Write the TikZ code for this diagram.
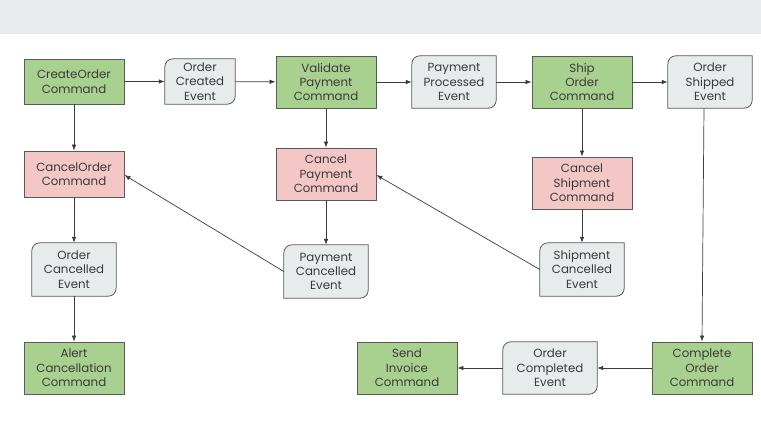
\documentclass[tikz,border=0pt]{standalone}
\usepackage{fontspec}
\setmainfont{Poppins}
\usetikzlibrary{arrows.meta,backgrounds,calc}
\definecolor{cmdgreen}{HTML}{A8D18F}
\definecolor{cmdred}{HTML}{F3C7C6}
\definecolor{evgray}{HTML}{E7EBEC}
\definecolor{bandgray}{HTML}{E9ECEC}
\definecolor{edgegray}{HTML}{5A5A5A}
\definecolor{txtgray}{HTML}{3A3A3A}
\definecolor{linegray}{HTML}{3C3C3C}
\tikzset{
  boxtext/.style={align=center, text=txtgray, inner sep=0pt,
    font=\fontsize{11.8pt}{14.4pt}\selectfont},
  cmd/.style={boxtext, draw=edgegray, line width=0.8pt, fill=cmdgreen,
    minimum width=100pt},
  cancel/.style={boxtext, draw=edgegray, line width=0.8pt, fill=cmdred,
    minimum width=100pt},
  evt/.style={boxtext},
  evtshape/.style={draw=edgegray, line width=0.8pt, fill=evgray},
  conn/.style={draw=linegray, line width=0.7pt,
    -{Latex[length=6pt,width=4.5pt]}},
}
\newcommand\evnode[6]{%
  \node[evt, minimum width=#4, minimum height=#5] (#1) at (#2,#3) {#6};
  \begin{pgfonlayer}{background}
    \path[evtshape] ([yshift=-8pt]#1.north west)
      arc[start angle=180, end angle=90, radius=8pt] -- (#1.north east)
      -- ([yshift=8pt]#1.south east)
      arc[start angle=0, end angle=-90, radius=8pt] -- (#1.south west) -- cycle;
  \end{pgfonlayer}}
\begin{document}
\begin{tikzpicture}[x=1pt,y=-1pt]
\useasboundingbox (0,0) rectangle (761,426);
\begin{pgfonlayer}{background}
  \fill[white] (0,0) rectangle (761,426);
  \fill[bandgray] (0,0) rectangle (761,34);
\end{pgfonlayer}

% top row
\node[cmd, minimum height=45pt] (create) at (74,81.5) {CreateOrder\\Command};
\evnode{ocreated}{200}{81.5}{70pt}{45pt}{Order\\Created\\Event}
\node[cmd, minimum height=52pt] (validate) at (326,82) {Validate\\Payment\\Command};
\evnode{pprocessed}{454}{82}{84pt}{52pt}{Payment\\Processed\\Event}
\node[cmd, minimum height=52pt] (ship) at (582,82) {Ship\\Order\\Command};
\evnode{oshipped}{710}{82}{84pt}{52pt}{Order\\Shipped\\Event}

% cancel commands
\node[cancel, minimum height=46pt] (cancelorder) at (74,174) {CancelOrder\\Command};
\node[cancel, minimum height=52pt] (cancelpay) at (326,174) {Cancel\\Payment\\Command};
\node[cancel, minimum height=52pt] (cancelship) at (582,183) {Cancel\\Shipment\\Command};

% cancelled events
\evnode{ocancelled}{74}{269.5}{84pt}{53pt}{Order\\Cancelled\\Event}
\evnode{pcancelled}{326}{271.5}{84pt}{53pt}{Payment\\Cancelled\\Event}
\evnode{scancelled}{582}{269.5}{84pt}{53pt}{Shipment\\Cancelled\\Event}

% bottom row
\node[cmd, minimum height=52pt] (alert) at (74,368) {Alert\\Cancellation\\Command};
\node[cmd, minimum height=52pt] (invoice) at (407,368) {Send\\Invoice\\Command};
\evnode{ocompleted}{550}{368}{94pt}{52pt}{Order\\Completed\\Event}
\node[cmd, minimum height=52pt] (complete) at (702,368) {Complete\\Order\\Command};

% connectors
\draw[conn] (create) -- (ocreated);
\draw[conn] (ocreated) -- (validate);
\draw[conn] (validate) -- (pprocessed);
\draw[conn] (pprocessed) -- (ship);
\draw[conn] (ship) -- (oshipped);
\draw[conn] (create) -- (cancelorder);
\draw[conn] (validate) -- (cancelpay);
\draw[conn] (ship) -- (cancelship);
\draw[conn] (cancelorder) -- (ocancelled);
\draw[conn] (ocancelled) -- (alert);
\draw[conn] (cancelpay) -- (pcancelled);
\draw[conn] (cancelship) -- (scancelled);
\draw[conn] (pcancelled.west) -- ([yshift=-1pt]cancelorder.east);
\draw[conn] (scancelled.west) -- ([yshift=-1pt]cancelpay.east);
\draw[conn] ([xshift=-6pt]oshipped.south) -- (complete.north);
\draw[conn] (complete) -- (ocompleted);
\draw[conn] (ocompleted) -- (invoice);
\end{tikzpicture}
\end{document}
